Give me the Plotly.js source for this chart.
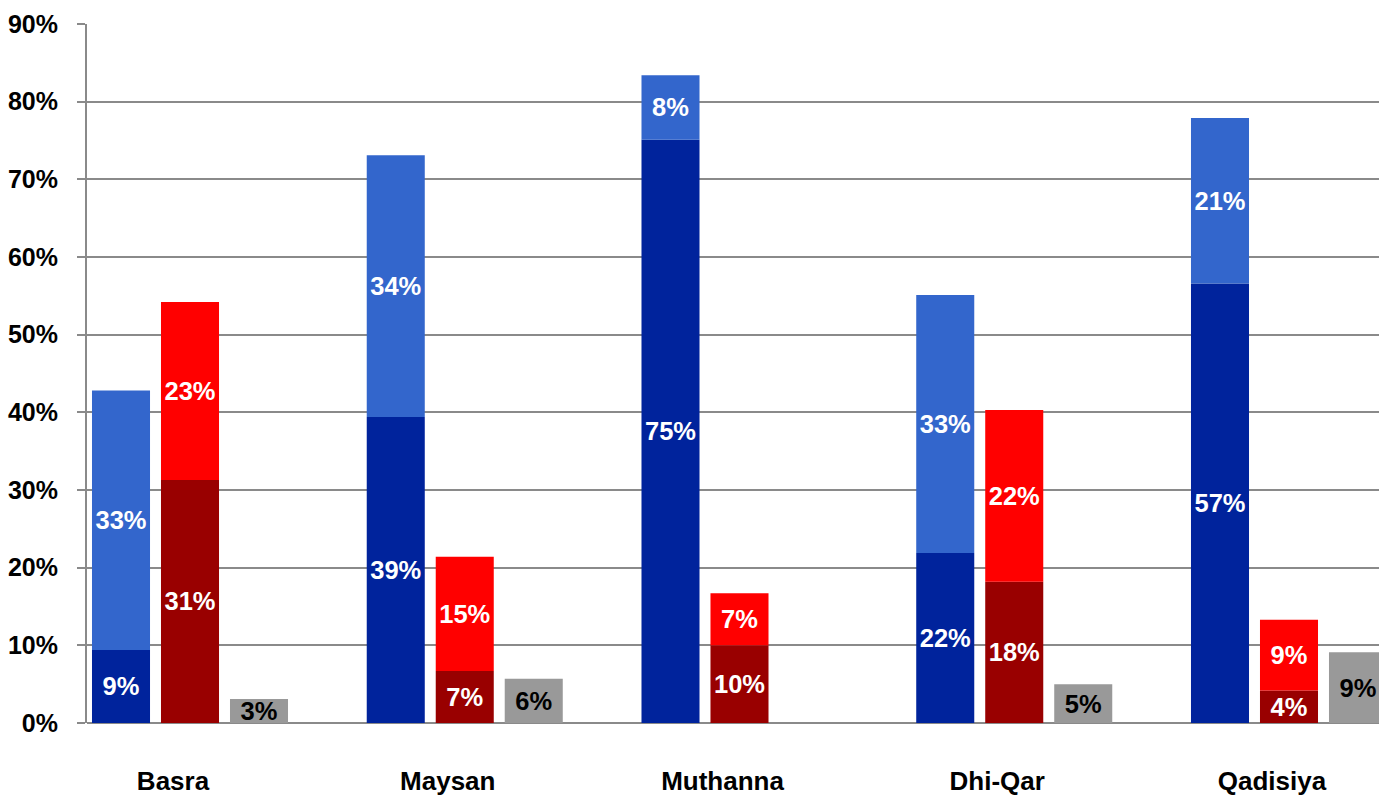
<!DOCTYPE html>
<html>
<head>
<meta charset="utf-8">
<script src="https://cdn.plot.ly/plotly-3.0.1.min.js"></script>
<style>
html,body{margin:0;padding:0;background:#fff;}
#chart{width:1379px;height:797px;}
</style>
</head>
<body>
<div id="chart"></div>
<script>
var categories = ['Basra', 'Maysan', 'Muthanna', 'Dhi-Qar', 'Qadisiya'];
var blueDark  = [9.4, 39.4, 75.1, 21.9, 56.6];
var blueLight = [33.4, 33.7, 8.3, 33.2, 21.3];
var redDark   = [31.3, 6.7, 10.0, 18.2, 4.2];
var redLight  = [22.9, 14.7, 6.7, 22.1, 9.1];
var grayVals  = [3.1, 5.7, null, 5.0, 9.1];
var yTicks = [0, 10, 20, 30, 40, 50, 60, 70, 80, 90];

var FONT = 'Liberation Sans, Arial, sans-serif';

function seg(y, base, group, color, txtColor) {
  var t = {
    type: 'bar',
    x: categories,
    y: y,
    offsetgroup: group,
    marker: {color: color, line: {width: 0}},
    texttemplate: '%{y:.0f}%',
    textposition: 'inside',
    insidetextanchor: 'middle',
    textangle: 0,
    constraintext: 'none',
    textfont: {family: FONT, size: 25.5, color: txtColor, weight: 'bold'},
    hoverinfo: 'skip',
    showlegend: false
  };
  if (base) t.base = base;
  return t;
}

var data = [
  seg(blueDark, null, 'b', '#00239C', '#ffffff'),
  seg(blueLight, blueDark, 'b', '#3366CC', '#ffffff'),
  seg(redDark, null, 'r', '#990000', '#ffffff'),
  seg(redLight, redDark, 'r', '#FF0000', '#ffffff'),
  seg(grayVals, null, 'g', '#999999', '#000000')
];

var layout = {
  width: 1379,
  height: 797,
  margin: {l: 87, r: 0, t: 24, b: 74, pad: 0},
  paper_bgcolor: '#ffffff',
  plot_bgcolor: '#ffffff',
  barmode: 'group',
  bargap: 0.2466,
  bargroupgap: 0.159,
  xaxis: {
    type: 'category',
    range: [-0.3749, 4.3276],
    showgrid: false,
    zeroline: false,
    showline: false,
    ticks: '',
    ticklabelshift: -17,
    ticklabelstandoff: 40,
    tickfont: {family: FONT, size: 26, color: '#000000', weight: 'bold'},
    fixedrange: true
  },
  yaxis: {
    range: [0, 90],
    tickvals: yTicks,
    ticktext: yTicks.map(function (v) { return v + '%'; }),
    showgrid: true,
    gridcolor: '#8a8a8a',
    gridwidth: 2,
    zeroline: true,
    zerolinecolor: '#8a8a8a',
    zerolinewidth: 2,
    showline: true,
    linecolor: '#8a8a8a',
    linewidth: 2,
    ticks: 'outside',
    ticklen: 8,
    tickwidth: 2,
    tickcolor: '#8a8a8a',
    ticklabelstandoff: 14,
    tickfont: {family: FONT, size: 25, color: '#000000', weight: 'bold'},
    fixedrange: true
  }
};

Plotly.newPlot('chart', data, layout, {displayModeBar: false, staticPlot: true});
</script>
</body>
</html>
